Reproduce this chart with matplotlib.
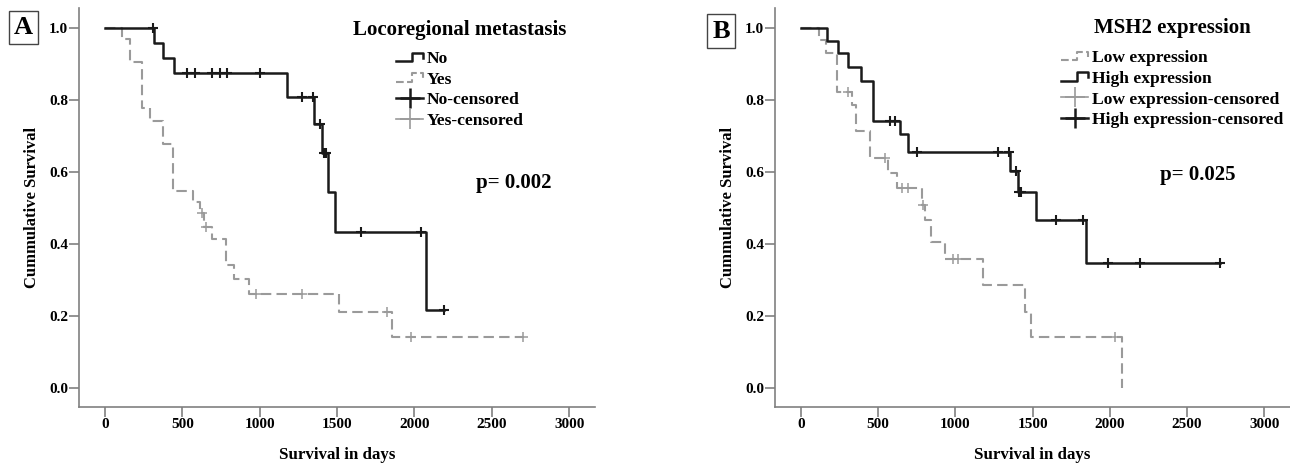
import numpy as np
import matplotlib
matplotlib.use('Agg')
import matplotlib.pyplot as plt
from matplotlib.lines import Line2D
from matplotlib.legend_handler import HandlerBase

plt.rcParams['font.family'] = ['Liberation Serif', 'DejaVu Serif']
plt.rcParams['font.weight'] = 'bold'

# ---- panel A : locoregional metastasis ----
no_t = [0, 318, 377, 448, 1175, 1353, 1400, 1441, 1487, 2075]
no_s = [1.0, 0.958, 0.917, 0.875, 0.808, 0.734, 0.653, 0.544, 0.435, 0.218]
no_end = 2193
no_cens = [312, 528, 582, 689, 743, 786, 1002, 1271, 1342, 1390, 1415, 1428, 1655, 2040, 2193]

yes_t = [0, 108, 161, 241, 291, 377, 442, 566, 614, 640, 694, 780, 836, 930, 1510, 1853]
yes_s = [1.0, 0.970, 0.907, 0.778, 0.743, 0.679, 0.549, 0.518, 0.486, 0.449, 0.414, 0.343, 0.302, 0.263, 0.211, 0.141]
yes_end = 2704
yes_cens = [625, 652, 974, 1273, 1821, 1978, 2704]

# ---- panel B : MSH2 expression ----
hi_t = [0, 166, 237, 305, 390, 465, 642, 694, 1351, 1406, 1520, 1848]
hi_s = [1.0, 0.964, 0.930, 0.891, 0.853, 0.743, 0.705, 0.657, 0.603, 0.545, 0.467, 0.349]
hi_end = 2714
hi_cens = [578, 610, 749, 1277, 1346, 1395, 1415, 1425, 1653, 1826, 1987, 2194, 2714]

lo_t = [0, 116, 160, 231, 328, 355, 446, 565, 619, 781, 802, 845, 931, 1179, 1448, 1491, 2079]
lo_s = [1.0, 0.966, 0.930, 0.824, 0.787, 0.713, 0.639, 0.597, 0.556, 0.509, 0.466, 0.407, 0.359, 0.287, 0.213, 0.143, 0.0]
lo_end = 2079
lo_cens = [306, 543, 657, 694, 792, 985, 1017, 2036]

xticks = [0, 500, 1000, 1500, 2000, 2500, 3000]
yticks = [0.0, 0.2, 0.4, 0.6, 0.8, 1.0]

BLACK = '#1a1a1a'
GRAY = '#9a9a9a'
SPINE = '#808080'


class StepHandler(HandlerBase):
    # little step-shaped icon like SPSS survival legends
    def create_artists(self, legend, orig_handle, xdescent, ydescent, width, height, fontsize, trans):
        xs = np.array([0, 0.6, 0.6, 1.0, 1.0]) * width - xdescent
        ys = np.array([0.15, 0.15, 0.85, 0.85, 0.45]) * height - ydescent
        ln = Line2D(xs, ys, color=orig_handle.get_color(), lw=orig_handle.get_linewidth(),
                    linestyle=orig_handle.get_linestyle())
        ln.set_transform(trans)
        return [ln]


def km(ax, t, s, end, cens, color, ls, lw, mew):
    tt = list(t) + [end]
    ss = list(s) + [s[-1]]
    ax.step(tt, ss, where='post', color=color, ls=ls, lw=lw, dashes=(5, 2.5) if ls == '--' else (None, None))
    idx = np.searchsorted(t, cens, side='right') - 1
    cy = np.array(s)[idx]
    ax.plot(cens, cy, ls='none', marker='+', ms=7.5, mew=mew, color=color)


def style_axes(ax):
    ax.set_xlim(-168, 3167)
    ax.set_ylim(-0.053, 1.056)
    ax.set_xticks(xticks)
    ax.set_yticks(yticks)
    ax.set_yticklabels(['%.1f' % v for v in yticks])
    for sp in ['top', 'right']:
        ax.spines[sp].set_visible(False)
    for sp in ['left', 'bottom']:
        ax.spines[sp].set_color(SPINE)
        ax.spines[sp].set_linewidth(1.2)
    ax.tick_params(direction='out', length=7, width=1.2, color=SPINE, labelsize=11, pad=1)
    ax.set_xlabel('Survival in days', fontsize=12.2, fontweight='bold', labelpad=11)
    ax.set_ylabel('Cummulative Survival', fontsize=12, fontweight='bold', labelpad=6)


fig = plt.figure(figsize=(12.9, 4.63), dpi=100)
axA = fig.add_axes([79 / 1290, 55.7 / 463, 516 / 1290, 399.3 / 463])
axB = fig.add_axes([775 / 1290, 55.7 / 463, 515 / 1290, 399.3 / 463])

km(axA, yes_t, yes_s, yes_end, yes_cens, GRAY, '--', 1.5, 1.1)
km(axA, no_t, no_s, no_end, no_cens, BLACK, '-', 1.8, 1.5)
km(axB, lo_t, lo_s, lo_end, lo_cens, GRAY, '--', 1.5, 1.1)
km(axB, hi_t, hi_s, hi_end, hi_cens, BLACK, '-', 1.8, 1.5)

for ax in (axA, axB):
    style_axes(ax)

h_black = Line2D([], [], color=BLACK, lw=1.8)
h_gray = Line2D([], [], color=GRAY, lw=1.5, ls='--', dashes=(3, 2))
hc_black = Line2D([], [], color=BLACK, lw=1.8, marker='+', ms=14, mew=1.8)
hc_gray = Line2D([], [], color=GRAY, lw=1.2, marker='+', ms=14, mew=1.2)
hmap = {h_black: StepHandler(), h_gray: StepHandler()}

leg_kw = dict(loc='upper left', frameon=False, prop={'size': 12.6, 'weight': 'bold'},
              handlelength=1.55, handletextpad=0.2, labelspacing=0.25, borderpad=0,
              borderaxespad=0, handler_map=hmap)

fig.legend([h_black, h_gray, hc_black, hc_gray],
           ['No', 'Yes', 'No-censored', 'Yes-censored'],
           bbox_to_anchor=(396 / 1290, 1 - 51 / 463), **leg_kw)
fig.text(460 / 1290, 1 - 30 / 463, 'Locoregional metastasis', fontsize=15, fontweight='bold',
         ha='center', va='center')

fig.legend([h_gray, h_black, hc_gray, hc_black],
           ['Low expression', 'High expression', 'Low expression-censored', 'High expression-censored'],
           bbox_to_anchor=(1061 / 1290, 1 - 50 / 463), **leg_kw)
fig.text(1172 / 1290, 1 - 28 / 463, 'MSH2 expression', fontsize=15, fontweight='bold',
         ha='center', va='center')

fig.text(476 / 1290, 1 - 183 / 463, 'p= 0.002', fontsize=15, fontweight='bold', va='center')
fig.text(1160 / 1290, 1 - 175 / 463, 'p= 0.025', fontsize=15, fontweight='bold', va='center')

box = dict(boxstyle='square,pad=0.2', fc='white', ec='#444444', lw=1.0)
fig.text(23.5 / 1290, 1 - 27.5 / 463, 'A', fontsize=19, fontweight='bold', ha='center', va='center', bbox=box)
fig.text(721 / 1290, 1 - 31 / 463, 'B', fontsize=19, fontweight='bold', ha='center', va='center', bbox=box)

fig.savefig('out.png', dpi=100)
